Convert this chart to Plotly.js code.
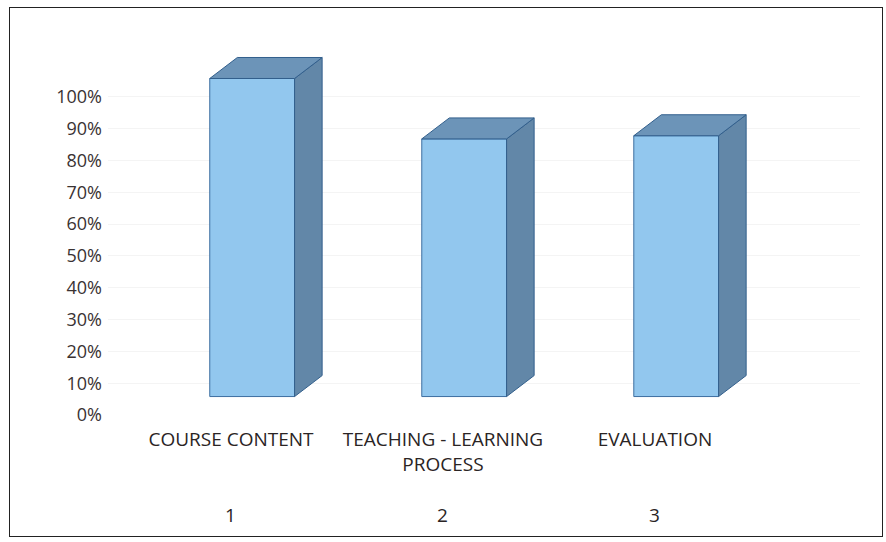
<!DOCTYPE html>
<html>
<head>
<meta charset="utf-8">
<script src="https://cdn.plot.ly/plotly-3.0.1.min.js"></script>
<style>
  html, body { margin: 0; padding: 0; background: #fff; }
  #wrap { position: relative; width: 886px; height: 542px; }
  #chart { width: 886px; height: 542px; }
  #frame { position: absolute; left: 9px; top: 7px; width: 874px; height: 530px;
           border: 1.5px solid #222; pointer-events: none; box-sizing: border-box; }
</style>
</head>
<body>
<div id="wrap">
  <div id="chart"></div>
  <div id="frame"></div>
</div>
<script>
// data
const categories = ['COURSE CONTENT', 'TEACHING - LEARNING<br>PROCESS', 'EVALUATION'];
const numbers = ['1', '2', '3'];
const values = [1.0, 0.81, 0.82];

// 3D look: the front face sits a little above the floor, the depth goes up-right
const lift = 0.058;     // front face base, in axis units
const barLeft = -0.10;  // front face offset from category position
const barWidth = 0.40;
const depthX = 0.13;
const depthY = 0.066;

const xPos = categories.map((c, i) => i);

const front = {
  type: 'bar',
  x: xPos,
  y: values,
  base: lift,
  offset: barLeft,
  width: barWidth,
  marker: { color: 'rgb(146,199,238)', line: { color: 'rgb(60,110,160)', width: 1 } },
  hoverinfo: 'skip',
  showlegend: false
};

// side and top faces, built from the same values
const sideX = [], sideY = [], topX = [], topY = [];
values.forEach((v, i) => {
  const x0 = xPos[i] + barLeft;
  const x1 = x0 + barWidth;
  const top = lift + v;
  sideX.push(x1, x1, x1 + depthX, x1 + depthX, x1, null);
  sideY.push(lift, top, top + depthY, lift + depthY, lift, null);
  topX.push(x0, x1, x1 + depthX, x0 + depthX, x0, null);
  topY.push(top, top, top + depthY, top + depthY, top, null);
});

const side = {
  type: 'scatter', mode: 'lines', x: sideX, y: sideY, fill: 'toself',
  fillcolor: 'rgb(98,135,168)', line: { color: 'rgb(50,95,140)', width: 1 },
  hoverinfo: 'skip', showlegend: false
};
const topFace = {
  type: 'scatter', mode: 'lines', x: topX, y: topY, fill: 'toself',
  fillcolor: 'rgb(108,148,184)', line: { color: 'rgb(50,95,140)', width: 1 },
  hoverinfo: 'skip', showlegend: false
};

const yTicks = [0, 0.1, 0.2, 0.3, 0.4, 0.5, 0.6, 0.7, 0.8, 0.9, 1.0];

const layout = {
  width: 886,
  height: 542,
  margin: { l: 108, r: 26, t: 40, b: 127 },
  paper_bgcolor: '#fff',
  plot_bgcolor: '#fff',
  font: { family: 'Open Sans, sans-serif', color: '#3a3232', size: 18 },
  xaxis: {
    range: [-0.58, 2.967],
    tickvals: xPos,
    ticktext: categories,
    showgrid: false,
    zeroline: false,
    showline: false,
    ticks: '',
    ticklabelstandoff: 11,
    tickfont: { size: 19, color: '#2a2424' }
  },
  yaxis: {
    range: [0, 1.179],
    tickvals: yTicks,
    tickformat: '.0%',
    showgrid: true,
    gridcolor: '#f4f4f4',
    zeroline: false,
    showline: false,
    ticks: '',
    ticklabelstandoff: 5,
    tickfont: { size: 18, color: '#3a3232' }
  },
  annotations: numbers.map((n, i) => ({
    x: xPos[i], y: -0.267, xref: 'x', yref: 'paper',
    text: n, showarrow: false, font: { size: 19, color: '#2a2424' },
    xanchor: 'center', yanchor: 'middle'
  }))
};

Plotly.newPlot('chart', [side, topFace, front], layout, { displayModeBar: false, staticPlot: true });
</script>
</body>
</html>
